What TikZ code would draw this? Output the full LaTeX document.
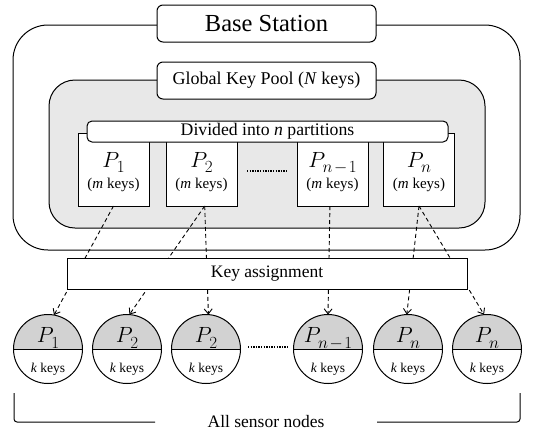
\RequirePackage{fix-cm}
\documentclass[tikz,border=0pt]{standalone}
\usepackage{fontspec}
\setmainfont{Liberation Serif}
\usetikzlibrary{arrows.meta,calc}
\definecolor{poolgray}{HTML}{E8E8E8}
\definecolor{topgray}{HTML}{D2D2D2}
\newcommand\plab[1]{$P$\kern-2.5pt\raisebox{-5.5pt}{\fontsize{17}{19}\selectfont$#1$}}
\begin{document}
\begin{tikzpicture}[x=1pt,y=1pt,
  every node/.style={inner sep=0pt,outer sep=0pt},
  frame/.style={draw,line width=1pt},
  titlebox/.style={draw,fill=white,line width=1pt,rounded corners=6pt,minimum width=219pt,minimum height=37pt},
  partbox/.style={draw,fill=white,line width=1pt,minimum width=71pt,minimum height=73pt},
  plabel/.style={anchor=base,font=\fontsize{22}{26}\selectfont},
  mlabel/.style={font=\fontsize{15}{18}\selectfont},
  klabel/.style={font=\fontsize{13.5}{16}\selectfont},
  sensor/.style={circle,draw,line width=1pt,fill=white,minimum size=69pt,
    path picture={\fill[topgray] (path picture bounding box.west) rectangle (path picture bounding box.north east);
      \draw[line width=1pt] (path picture bounding box.west) -- (path picture bounding box.east);}},
  assign/.style={draw,line width=0.9pt,dash pattern=on 4pt off 3pt,-{Straight Barb[length=5pt,width=8pt]}},
  dotline/.style={line width=2pt,dash pattern=on 1.3pt off 1.3pt}
]
\useasboundingbox (0,0) rectangle (537,-432);
% outer base station frame
\draw[frame,rounded corners=35pt] (13,-25) rectangle (520,-250);
\node[titlebox,font=\fontsize{24.5}{28}\selectfont] (bs) at (266.5,-23.5) {Base Station};
% key pool
\draw[frame,fill=poolgray,rounded corners=26pt] (49,-80) rectangle (485,-228);
\node[titlebox,font=\fontsize{18}{22}\selectfont] (gkp) at (266.5,-80.5) {Global Key Pool (\textit{N} keys)};
% partitions
\node[partbox] (p1) at (113.5,-169.5) {};
\node[partbox] (p2) at (201.5,-169.5) {};
\node[partbox] (pn1) at (332.5,-169.5) {};
\node[partbox] (pn) at (419,-169.5) {};
\node[draw,fill=white,line width=1pt,rounded corners=5pt,minimum width=361pt,minimum height=21pt,font=\fontsize{17.7}{21}\selectfont] (div) at (267.5,-131.5) {Divided into \textit{n} partitions};
\foreach \p/\t in {p1/{1},p2/{2},pn1/{n\kern1.5pt{-}\kern1.5pt1},pn/{n}}{
  \node[plabel] (\p t) at ([yshift=2.5pt]\p.center) {\plab{\t}};
  \node[mlabel] (\p m) at ([yshift=-15.5pt]\p.center) {(\textit{m} keys)};
}
\coordinate (d1a) at (247,-171);
\coordinate (d1b) at (288,-171);
\draw[dotline] (d1a) -- (d1b);
% sensor nodes
\node[sensor] (c1) at (48,-349) {};
\node[sensor] (c2) at (127,-349) {};
\node[sensor] (c3) at (206,-349) {};
\node[sensor] (c4) at (328,-349) {};
\node[sensor] (c5) at (408,-349) {};
\node[sensor] (c6) at (487,-349) {};
\foreach \c/\t in {c1/{1},c2/{2},c3/{2},c4/{n\kern1.5pt{-}\kern1.5pt1},c5/{n},c6/{n}}{
  \node[plabel] (\c t) at ([yshift=6.5pt]\c.center) {\plab{\t}};
  \node[klabel] (\c k) at ([yshift=-20pt]\c.center) {\textit{k} keys};
}
\coordinate (d2a) at (248,-347);
\coordinate (d2b) at (288,-347);
\draw[dotline] (d2a) -- (d2b);
% assignment arrows
\path[assign] (p1.south) -- (c1.80);
\path[assign] (p2.-85) -- (c2.86);
\path[assign] (p2.-85) -- (c3.86);
\path[assign] (pn1.-94) -- (c4.90);
\path[assign] (pn.south) -- (c5.92);
\path[assign] (pn.south) -- (c6.95);
\node[draw,fill=white,line width=1pt,minimum width=400pt,minimum height=31pt,font=\fontsize{17.5}{21}\selectfont] (ka) at (267,-273.5) {Key assignment};
% bracket
\node[font=\fontsize{17.5}{21}\selectfont] (all) at (266,-422) {All sensor nodes};
\coordinate (bl1) at (14,-393);
\coordinate (bl2) at (14,-422);
\coordinate (bl3) at (155,-422);
\coordinate (br1) at (377,-422);
\coordinate (br2) at (520,-422);
\coordinate (br3) at (520,-393);
\draw[line width=1pt,rounded corners=3pt] (bl1) -- (bl2) -- (bl3);
\draw[line width=1pt,rounded corners=3pt] (br1) -- (br2) -- (br3);
\end{tikzpicture}
\end{document}
